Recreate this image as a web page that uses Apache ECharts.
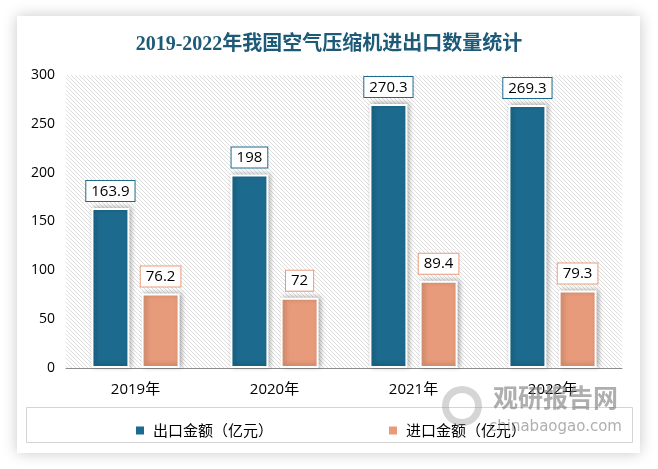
<!DOCTYPE html>
<html>
<head>
<meta charset="utf-8">
<script src="https://cdn.jsdelivr.net/npm/echarts@6/dist/echarts.min.js"></script>
<style>
html,body{margin:0;padding:0;background:#ffffff;}
#c{width:658px;height:469px;}
</style>
</head>
<body>
<div id="c"></div>
<script>
var categories = ['2019年', '2020年', '2021年', '2022年'];
var exportValues = [163.9, 198, 270.3, 269.3];
var importValues = [76.2, 72, 89.4, 79.3];
var yTicks = [0, 50, 100, 150, 200, 250, 300];
var seriesNames = ['出口金额（亿元）', '进口金额（亿元）'];
var titleText = '2019-2022年我国空气压缩机进出口数量统计';

var BLUE = '#1c6b8e';
var ORANGE = '#e89b7a';

// hatch pattern (diagonal dotted lines)
var pc = document.createElement('canvas');
pc.width = 4; pc.height = 4;
var g = pc.getContext('2d');
g.fillStyle = '#ffffff';
g.fillRect(0, 0, 4, 4);
g.fillStyle = '#dedede';
for (var i = 0; i < 4; i++) { g.fillRect(i, i, 1, 1); }

var chart = echarts.init(document.getElementById('c'), null, {renderer: 'canvas'});

function labelFor(color) {
  return {
    show: true,
    position: 'top',
    distance: 7,
    color: '#000',
    fontSize: 15,
    fontFamily: '"Open Sans", "Liberation Sans", sans-serif',
    backgroundColor: '#fff',
    borderColor: color,
    borderWidth: 1,
    padding: [3, 5, 2, 5],
    shadowBlur: 0,
    shadowColor: 'transparent',
    textShadowBlur: 0
  };
}

chart.setOption({
  animation: false,
  backgroundColor: '#ffffff',
  graphic: [
    {
      type: 'rect', z: -10, silent: true,
      shape: {x: 17, y: 16, width: 623, height: 437},
      style: {fill: '#ffffff', shadowBlur: 14, shadowColor: 'rgba(0,0,0,0.22)', shadowOffsetX: 0, shadowOffsetY: 0}
    },
    {
      type: 'rect', z: 1, silent: true,
      shape: {x: 26.5, y: 407.5, width: 606, height: 35},
      style: {fill: 'none', stroke: '#d4d4d4', lineWidth: 1}
    },
    {
      type: 'text', z: 100, silent: true,
      left: 493, top: 385,
      style: {text: '观研报告网', fill: 'rgba(120,120,120,0.6)', font: 'bold 25px "Noto Sans CJK SC", sans-serif'}
    },
    {
      type: 'text', z: 100, silent: true,
      left: 489, top: 420,
      style: {text: 'chinabaogao.com', fill: 'rgba(120,120,120,0.6)', font: '15px "DejaVu Sans", sans-serif'}
    },
    {
      type: 'ring', z: 100, silent: true,
      shape: {cx: 462, cy: 406, r: 20, r0: 13},
      style: {fill: 'rgba(150,150,150,0.4)'}
    }
  ],
  title: {
    text: titleText,
    left: 'center',
    top: 30,
    textStyle: {
      color: '#1d5a78',
      fontSize: 20,
      fontWeight: 'bold',
      fontFamily: '"Liberation Serif", "Noto Sans CJK SC", serif'
    }
  },
  legend: {
    left: 129,
    top: 418,
    itemWidth: 10,
    itemHeight: 10,
    itemGap: 114,
    icon: 'rect',
    textStyle: {fontSize: 15, color: '#000', fontFamily: '"Noto Sans CJK SC", sans-serif', padding: [0, 0, 0, 3]},
    data: seriesNames
  },
  grid: {
    left: 66, right: 36, top: 75, bottom: 101,
    show: true,
    borderWidth: 0,
    backgroundColor: {image: pc, repeat: 'repeat'}
  },
  xAxis: {
    type: 'category',
    data: categories,
    axisLine: {show: true, lineStyle: {color: '#8c8c8c', width: 1}},
    axisTick: {show: false},
    axisLabel: {color: '#000', fontSize: 15, margin: 14, fontFamily: '"Open Sans", "Liberation Sans", "Noto Sans CJK SC", sans-serif'}
  },
  yAxis: {
    type: 'value',
    min: yTicks[0],
    max: yTicks[yTicks.length - 1],
    interval: 50,
    axisLine: {show: false},
    axisTick: {show: false},
    splitLine: {show: false},
    axisLabel: {color: '#000', fontSize: 14, margin: 11, fontFamily: '"Open Sans", "Liberation Sans", sans-serif'}
  },
  series: [
    {
      name: seriesNames[0],
      type: 'bar',
      data: exportValues,
      barWidth: 38,
      barGap: '32%',
      itemStyle: {color: BLUE, borderColor: '#fff', borderWidth: 2, shadowBlur: 5, shadowColor: 'rgba(0,0,0,0.3)', shadowOffsetX: 2, shadowOffsetY: -1},
      label: labelFor(BLUE)
    },
    {
      name: seriesNames[1],
      type: 'bar',
      data: importValues,
      barWidth: 38,
      barGap: '32%',
      itemStyle: {color: ORANGE, borderColor: '#fff', borderWidth: 2, shadowBlur: 5, shadowColor: 'rgba(0,0,0,0.3)', shadowOffsetX: 2, shadowOffsetY: -1},
      label: labelFor(ORANGE)
    }
  ]
});
</script>
</body>
</html>
